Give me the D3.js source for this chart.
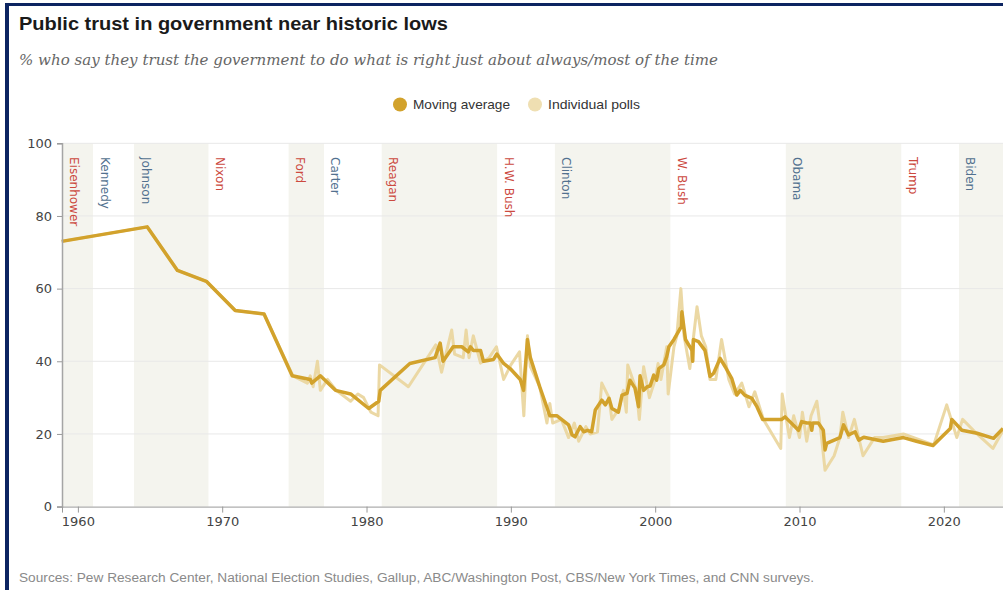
<!DOCTYPE html>
<html>
<head>
<meta charset="utf-8">
<script src="https://cdn.jsdelivr.net/npm/d3@7"></script>
<style>
  html, body { margin: 0; padding: 0; background: #fff; }
  svg { display: block; }
</style>
</head>
<body>
<svg id="chart" width="1003" height="590"></svg>
<script>
// ---------- DATA ----------
const presidents = ["Eisenhower","Kennedy","Johnson","Nixon","Ford","Carter","Reagan","H.W. Bush","Clinton","W. Bush","Obama","Trump","Biden"];
const presStart  = [1958.9, 1961.05, 1963.89, 1969.05, 1974.6, 1977.05, 1981.05, 1989.05, 1993.05, 2001.05, 2009.05, 2017.05, 2021.05];
const presParty  = ["R","D","D","R","R","D","R","R","D","R","D","R","D"];

const yTicks = [0, 20, 40, 60, 80, 100];
const xTicks = [1960, 1970, 1980, 1990, 2000, 2010, 2020];

// Moving average (year, %)
const avgYears = [1958.88,1964.8,1966.9,1968.9,1970.9,1972.9,1974.85,1976.1,1976.2,1976.8,1977.85,1978.9,1980.15,1980.85,1980.95,1983.0,1984.75,1985.1,1985.3,1986.0,1986.6,1987.05,1987.2,1987.4,1987.9,1988.1,1988.8,1989.03,1989.5,1989.95,1990.65,1990.88,1991.15,1991.35,1992.0,1992.7,1993.2,1994.0,1994.25,1994.45,1994.8,1995.05,1995.3,1995.6,1995.85,1996.3,1996.55,1996.8,1997.0,1997.45,1997.7,1998.05,1998.25,1998.6,1998.85,1998.95,1999.2,1999.45,1999.65,1999.9,2000.1,2000.25,2000.6,2000.8,2000.95,2001.3,2001.8,2001.85,2002.1,2002.55,2002.6,2002.65,2003.0,2003.45,2003.8,2004.05,2004.5,2004.85,2005.3,2005.65,2005.9,2006.2,2006.7,2007.05,2007.45,2008.77,2009.0,2009.93,2010.15,2010.5,2010.75,2010.85,2010.92,2011.3,2011.65,2011.77,2011.88,2012.8,2013.05,2013.4,2013.85,2014.1,2014.45,2015.8,2017.2,2018.1,2019.25,2020.45,2020.55,2021.25,2022.3,2023.45,2024.1];
const avgValues = [73,77,65,62,54,53,36,35,34,36,32,31,27,29,32,39.4,41,45,40,44,44,42.6,44,43,43,40,40.5,42,39.4,38,35,32,46,41,33,25,25,22.5,19.7,19.2,22,20.6,21,20.6,26.6,29.3,28,29.8,27,26,30.7,31.2,34.8,32.6,27.5,36,32,33,33.2,36.2,34.8,38,39,41.3,44,46,49.5,53.6,46,43,40,46,45.4,43,35.8,36.7,40.8,38.5,35.3,30.7,32,30.7,29.8,27.5,24,24,24.7,21,23.4,23,23,21,23,23,21,15.6,17.4,19,22.5,19.7,20.6,18.3,19.1,18,19,18,16.8,21.5,24,21,20.2,18.8,21.5];

// Individual polls (year, %)
const pollYears = [1958.88,1964.8,1966.9,1968.9,1970.9,1972.9,1974.9,1975.9,1976.1,1976.3,1976.6,1976.8,1977.3,1977.9,1978.9,1979.4,1979.8,1980.3,1980.8,1980.9,1982.9,1984.8,1985.2,1985.9,1986.1,1986.7,1986.9,1987.1,1987.4,1987.9,1988.5,1989.0,1989.5,1990.0,1990.6,1990.9,1991.15,1991.35,1992.0,1992.5,1992.7,1992.9,1993.5,1994.0,1994.4,1994.7,1995.2,1995.5,1996.0,1996.3,1996.8,1997.0,1997.5,1997.8,1998.0,1998.1,1998.7,1998.9,1999.2,1999.6,2000.0,2000.2,2000.4,2000.8,2000.9,2001.3,2001.5,2001.78,2002.0,2002.4,2002.9,2003.2,2003.5,2003.8,2004.2,2004.6,2005.1,2005.5,2006.0,2006.5,2006.9,2007.5,2008.7,2008.8,2009.3,2009.6,2010.0,2010.2,2010.5,2010.8,2011.2,2011.5,2011.77,2012.4,2012.8,2013.0,2013.4,2013.8,2014.4,2015.2,2015.8,2017.2,2019.3,2020.2,2020.9,2021.3,2022.3,2023.4,2024.1];
const pollValues = [73,77,65,62,54,53,36,34,36,33,40,32,35,32,29,31,30,26,25,39,33,44.5,37,48.6,42,41,48.6,41,47,39.5,41,44,35,39,42.6,25,47,38.5,33,23,28.4,23,24,19,23,18,22,20,20.5,34,30,24,27,32,26,39,32,24,38.5,30,35,39.4,35,44,31,44,47,60,47,38,55,47,44,35,35,46,35,31,34,27.5,31.6,24,16,31,19,25,19,26,18,25,29,20,10,14,19,26,19,24,14,19,19,20,17,28,19,24,20,16,21];

// ---------- LAYOUT ----------
const svg = d3.select("#chart");
const W = 1003, H = 590;
const plotLeft = 62, plotTop = 143.3, plotBottom = 506.6;

const x = d3.scaleLinear().domain([1958.9, 2025]).range([plotLeft, 1016]);
const y = d3.scaleLinear().domain([0, 100]).range([plotBottom, plotTop]);

const RED = "#cc4a3f", BLUE = "#52718f";
const DARK = "#d2a22c", LIGHT = "#ead69f";

// frame
svg.append("rect").attr("x", 5).attr("y", 3).attr("width", W - 5).attr("height", 3).attr("fill", "#0c2461");
svg.append("rect").attr("x", 5).attr("y", 3).attr("width", 4).attr("height", H - 3).attr("fill", "#0c2461");

// title
svg.append("text").attr("x", 19).attr("y", 30)
  .attr("font-family", "'Liberation Sans Narrow','Liberation Sans',Arial,sans-serif")
  .attr("font-weight", "bold").attr("font-size", 19).attr("fill", "#1a1a1a")
  .attr("textLength", 429).attr("lengthAdjust", "spacingAndGlyphs")
  .text("Public trust in government near historic lows");

svg.append("text").attr("x", 19).attr("y", 65)
  .attr("font-family", "'DejaVu Serif',Georgia,serif").attr("font-style", "italic")
  .attr("font-size", 15).attr("fill", "#666")
  .attr("textLength", 699).attr("lengthAdjust", "spacingAndGlyphs")
  .text("% who say they trust the government to do what is right just about always/most of the time");

// legend
const lg = svg.append("g").attr("font-family", "'Liberation Sans',Arial,sans-serif").attr("font-size", 13).attr("fill", "#333");
lg.append("circle").attr("cx", 400).attr("cy", 104.5).attr("r", 7).attr("fill", DARK);
lg.append("text").attr("x", 413).attr("y", 109).attr("textLength", 97).attr("lengthAdjust", "spacingAndGlyphs").text("Moving average");
lg.append("circle").attr("cx", 535).attr("cy", 104.5).attr("r", 7).attr("fill", "#efdfb2");
lg.append("text").attr("x", 548).attr("y", 109).attr("textLength", 92).attr("lengthAdjust", "spacingAndGlyphs").text("Individual polls");

// president bands
const presEnd = presStart.slice(1).concat([2030]);
const bandG = svg.append("g");
presidents.forEach((p, i) => {
  if (i % 2 === 0) {
    bandG.append("rect")
      .attr("x", x(presStart[i])).attr("y", plotTop)
      .attr("width", x(presEnd[i]) - x(presStart[i]))
      .attr("height", plotBottom - plotTop)
      .attr("fill", "#f4f4ee");
  }
});

// gridlines
svg.append("g").selectAll("line").data(yTicks.filter(d => d > 0)).join("line")
  .attr("x1", plotLeft).attr("x2", W)
  .attr("y1", d => y(d)).attr("y2", d => y(d))
  .attr("stroke", "#e8e8e8").attr("stroke-width", 1);

// president labels
svg.append("g").selectAll("text").data(presidents).join("text")
  .attr("transform", (d, i) => `translate(${x(presStart[i]) + 7.5},157) rotate(90)`)
  .attr("font-family", "'DejaVu Sans',Verdana,sans-serif").attr("font-size", 12)
  .attr("fill", (d, i) => presParty[i] === "R" ? RED : BLUE)
  .text(d => d);

// lines
const pollData = pollYears.map((d, i) => [d, pollValues[i]]);
const avgData = avgYears.map((d, i) => [d, avgValues[i]]);
const line = d3.line().x(d => x(d[0])).y(d => y(d[1]));

svg.append("path").datum(pollData).attr("d", line)
  .attr("fill", "none").attr("stroke", LIGHT).attr("stroke-width", 3)
  .attr("stroke-linejoin", "round").attr("opacity", 0.95);
svg.append("path").datum(avgData).attr("d", line)
  .attr("fill", "none").attr("stroke", DARK).attr("stroke-width", 3.5)
  .attr("stroke-linejoin", "round");

// axes
const yAxis = d3.axisLeft(y).tickValues(yTicks).tickSize(5).tickPadding(5);
const gy = svg.append("g").attr("transform", `translate(${plotLeft},0)`).call(yAxis);
gy.select(".domain").attr("stroke", "#a5a5a5").attr("stroke-width", 1.5);
gy.selectAll(".tick line").attr("stroke", "#999");
gy.selectAll("text").attr("font-family", "'DejaVu Sans',Verdana,sans-serif").attr("font-size", 13).attr("fill", "#444");

const xAxis = d3.axisBottom(x).tickValues(xTicks).tickFormat(d3.format("d")).tickSize(6).tickPadding(4);
const gx = svg.append("g").attr("transform", `translate(0,${plotBottom})`).call(xAxis);
gx.select(".domain").attr("stroke", "#999").attr("stroke-width", 1);
gx.selectAll(".tick line").attr("stroke", "#999");
gx.selectAll("text").attr("font-family", "'DejaVu Sans',Verdana,sans-serif").attr("font-size", 13).attr("fill", "#444");

// footer
svg.append("text").attr("x", 19).attr("y", 582)
  .attr("font-family", "'Liberation Sans',Arial,sans-serif").attr("font-size", 12.5).attr("fill", "#8a8a8a")
  .attr("textLength", 795).attr("lengthAdjust", "spacingAndGlyphs")
  .text("Sources: Pew Research Center, National Election Studies, Gallup, ABC/Washington Post, CBS/New York Times, and CNN surveys.");
</script>
</body>
</html>
